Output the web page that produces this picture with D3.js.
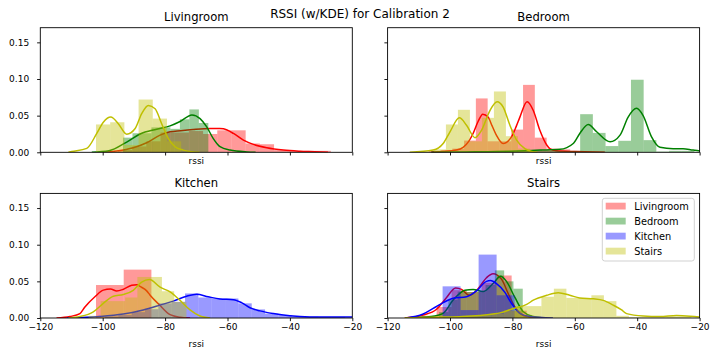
<!DOCTYPE html>
<html><head><meta charset="utf-8">
<script src="https://cdn.jsdelivr.net/npm/d3@7"></script>
<style>body{margin:0;background:#fff}svg{display:block}text{font-family:"DejaVu Sans",sans-serif;fill:#000}</style>
</head><body><svg id="c" width="720" height="360"></svg>
<script>
// ---------- data ----------
const rooms = ["Livingroom", "Bedroom", "Kitchen", "Stairs"];   // beacons (series) and panels
const xTicks = [-120, -100, -80, -60, -40, -20];
const yTicks = [0, 0.05, 0.10, 0.15];
const suptitle = "RSSI (w/KDE) for Calibration 2";
const xLabel = "rssi";

// histogram bins: [first edge, bin width]; densities per bin; KDE as [rssi, density]
// Panel: Livingroom
const livR_bin = [-95.13, 4.55];
const livR_den = [0.003, 0.008, 0.015, 0.027, 0.027, 0.029, 0.025, 0.030, 0.030, 0.012, 0.011, 0.003, 0.002, 0.002, 0.002];
const livR_kde = [[-100,0],[-95.5,0.0018],[-90.2,0.0062],[-85.9,0.013],[-81.6,0.0234],[-78.4,0.028],[-75,0.0295],[-71,0.031],[-65.6,0.0324],[-62.5,0.0325],[-61.3,0.032],[-58.1,0.0257],[-54.9,0.0166],[-51.7,0.0108],[-47.4,0.0062],[-42.1,0.003],[-36.8,0.0015],[-32,0.0008],[-27.8,0]];
const livG_bin = [-93.5, 3.04];
const livG_den = [0.020, 0.026, 0.026, 0.034, 0.034, 0.032, 0.045, 0.0585, 0.040];
const livG_kde = [[-103.5,0],[-98,0.002],[-92.3,0.014],[-88,0.025],[-82.7,0.0315],[-78.4,0.036],[-75.2,0.042],[-71.4,0.051],[-68.8,0.046],[-66.7,0.035],[-64.6,0.019],[-62.4,0.0076],[-59.2,0.003],[-53.8,0.0005],[-51,0]];
const livY_bin = [-102.15, 4.55];
const livY_den = [0.038, 0.041, 0.010, 0.072, 0.046, 0.015];
const livY_kde = [[-111,0],[-109.9,0.001],[-105.1,0.0054],[-101.9,0.0257],[-99.8,0.041],[-97.4,0.048],[-95,0.039],[-92.3,0.0247],[-89.6,0.0324],[-87.5,0.0527],[-85.4,0.064],[-83.2,0.0595],[-81.1,0.039],[-79,0.019],[-76.8,0.0076],[-74.2,0.003],[-71,0.0005],[-69,0]];

// Panel: Bedroom
const bedR_bin = [-106.83, 3.78];
const bedR_den = [0.002, 0.003, 0.005, 0.016, 0.0735, 0.015, 0.015, 0.031, 0.092, 0.020, 0.005, 0.004, 0.001, 0.001, 0.001];
const bedR_kde = [[-106,0],[-102.2,0.001],[-98,0.003],[-95.8,0.0068],[-94,0.015],[-92.6,0.0257],[-91,0.042],[-89.5,0.052],[-87.8,0.048],[-86.5,0.036],[-85.1,0.023],[-83,0.012],[-80.3,0.021],[-78.8,0.035],[-77.6,0.048],[-75.3,0.069],[-73.3,0.057],[-71.2,0.030],[-69,0.010],[-68,0.005],[-66,0.002],[-60,0.001],[-50.4,0]];
const bedG_bin = [-82.7, 4.07];
const bedG_den = [0.001, 0.002, 0.003, 0.002, 0.002, 0.002, 0.052, 0.0265, 0.0085, 0.0157, 0.099, 0.0166, 0.001, 0.002, 0.002];
const bedG_kde = [[-106,0],[-95,0.0005],[-85,0.001],[-80.8,0.0015],[-71.1,0.003],[-64.8,0.004],[-60.5,0.012],[-58.4,0.0257],[-55.7,0.038],[-53,0.028],[-48.7,0.0143],[-45.5,0.0234],[-42.9,0.048],[-40.2,0.060],[-38.1,0.050],[-35.4,0.021],[-32.7,0.0068],[-28.5,0.005],[-25.3,0.005],[-22.1,0.003],[-20,0.002],[-18,0.001]];
const bedY_bin = [-105.16, 3.846];
const bedY_den = [0.004, 0.038, 0.058, 0.015, 0.047, 0.083, 0.022, 0.005];
const bedY_kde = [[-112.9,0],[-105.4,0.003],[-102.2,0.012],[-100,0.028],[-97,0.047],[-94.7,0.037],[-92,0.020],[-89.9,0.030],[-87.2,0.057],[-84.9,0.069],[-83,0.062],[-80.8,0.037],[-78.7,0.017],[-76,0.005],[-73.8,0.001],[-72,0]];

// Panel: Kitchen
const kitR_bin = [-102.15, 8.88];
const kitR_den = [0.045, 0.066];
const kitR_kde = [[-114.8,0],[-110.5,0.002],[-107.3,0.006],[-105.7,0.015],[-102.5,0.029],[-99.8,0.038],[-97.5,0.0395],[-95.5,0.037],[-93.5,0.039],[-90.7,0.0446],[-89,0.0455],[-88,0.043],[-85.9,0.037],[-84.8,0.031],[-81.6,0.017],[-78.4,0.0045],[-75.2,0.001],[-72,0]];
const kitB_bin = [-99.26, 4.275];
const kitB_den = [0.002, 0.004, 0.008, 0.012, 0.020, 0.022, 0.0335, 0.028, 0.0266, 0.0266, 0.020, 0.0117, 0.006, 0.004, 0.002, 0.002, 0.0015, 0.0015];
const kitB_kde = [[-111.5,0],[-100.9,0.002],[-93.4,0.0054],[-87,0.011],[-81.6,0.0176],[-77.4,0.023],[-73.1,0.0297],[-69.9,0.0324],[-66.2,0.029],[-62.4,0.026],[-58.1,0.025],[-55.5,0.021],[-52.8,0.014],[-49.6,0.0097],[-45.3,0.006],[-40,0.003],[-33.6,0.0015],[-26,0.0013],[-20,0.0012]];
const kitY_bin = [-104.6, 3.93];
const kitY_den = [0.003, 0.023, 0.023, 0.028, 0.056, 0.056, 0.0365, 0.022];
const kitY_kde = [[-111,0],[-107.3,0.002],[-103,0.0085],[-99.8,0.020],[-96.6,0.0297],[-93.4,0.032],[-90.2,0.0378],[-87.5,0.049],[-85,0.0525],[-81.6,0.042],[-78.4,0.0356],[-75.2,0.024],[-72,0.011],[-69,0.003],[-65.6,0]];

// Panel: Stairs
const staR_bin = [-109.1, 4.81];
const staR_den = [0.003, 0.015, 0.038, 0.0355, 0.048, 0.058, 0.010];
const staR_kde = [[-114.5,0],[-108.6,0.004],[-104.3,0.012],[-101.1,0.028],[-98.2,0.041],[-96.3,0.039],[-93.8,0.031],[-91,0.040],[-88.3,0.055],[-86.2,0.0605],[-83.5,0.053],[-81.3,0.033],[-79.2,0.015],[-76.5,0.0035],[-73,0.0005],[-70,0]];
const staG_bin = [-103.5, 2.98];
const staG_den = [0.008, 0.025, 0.036, 0.0355, 0.036, 0.045, 0.065, 0.050, 0.040, 0.004];
const staG_kde = [[-113.9,0],[-106,0.002],[-102.2,0.0063],[-99,0.0245],[-95.2,0.038],[-92.6,0.039],[-89.4,0.036],[-86.2,0.047],[-83.8,0.057],[-81.9,0.050],[-79.2,0.028],[-76.5,0.0085],[-73.3,0.002],[-70,0]];
const staB_bin = [-102.37, 5.77];
const staB_den = [0.0432, 0.0108, 0.0865, 0.031];
const staB_kde = [[-114,0],[-108.6,0.0054],[-105.4,0.013],[-102.2,0.021],[-99,0.027],[-94.7,0.029],[-91.5,0.037],[-88.3,0.050],[-87,0.051],[-85.1,0.047],[-82.4,0.035],[-80.3,0.020],[-77.6,0.0063],[-74.4,0.002],[-67,0]];
const staY_bin = [-106.76, 4.006];
const staY_den = [0.001, 0.001, 0.002, 0.003, 0.004, 0.006, 0.010, 0.0162, 0.0162, 0.029, 0.040, 0.0274, 0.0274, 0.031, 0.023, 0.003, 0.001, 0.001, 0.001, 0.002, 0.002];
const staY_kde = [[-114.5,0],[-105,0.001],[-96.8,0.0018],[-86.2,0.0054],[-84,0.007],[-79.7,0.013],[-75.4,0.0185],[-73.3,0.0243],[-69,0.031],[-65.3,0.0345],[-61.6,0.031],[-58.4,0.0274],[-54.1,0.0262],[-50.9,0.024],[-47.7,0.0176],[-45,0.011],[-43.4,0.006],[-38.1,0.0027],[-32.7,0.002],[-27.4,0.0034],[-23,0.0025],[-20,0.0013]];

// ---------- styles / layout ----------
const colors = ["#ff0000", "#008000", "#0000ff", "#bfbf00"];
const panels = [
  {title: rooms[0], col: 0, row: 0, series: [[0, livR_bin, livR_den, livR_kde], [1, livG_bin, livG_den, livG_kde], [3, livY_bin, livY_den, livY_kde]]},
  {title: rooms[1], col: 1, row: 0, series: [[0, bedR_bin, bedR_den, bedR_kde], [1, bedG_bin, bedG_den, bedG_kde], [3, bedY_bin, bedY_den, bedY_kde]]},
  {title: rooms[2], col: 0, row: 1, series: [[0, kitR_bin, kitR_den, kitR_kde], [2, kitB_bin, kitB_den, kitB_kde], [3, kitY_bin, kitY_den, kitY_kde]]},
  {title: rooms[3], col: 1, row: 1, series: [[0, staR_bin, staR_den, staR_kde], [1, staG_bin, staG_den, staG_kde], [2, staB_bin, staB_den, staB_kde], [3, staY_bin, staY_den, staY_kde]]}
];
const colX = [40.3, 387.6], rowY = [27.7, 193.4];
const W = 312, H = 124.6;

const svg = d3.select("#c");
svg.append("text").attr("x", 360).attr("y", 18).attr("text-anchor", "middle")
  .style("font-size", "12px").text(suptitle);

const x = d3.scaleLinear().domain([-120, -20]).range([0, W]);
const y = d3.scaleLinear().domain([0, 0.17]).range([H, 0]);
const fmtX = d => (d < 0 ? "\u2212" + Math.abs(d) : String(d));
const fmtY = d3.format(".2f");
const line = d3.line().x(d => x(d[0])).y(d => y(d[1])).curve(d3.curveMonotoneX);

panels.forEach((p, pi) => {
  const g = svg.append("g").attr("transform", `translate(${colX[p.col]},${rowY[p.row]})`);
  const cid = "clip" + pi;
  g.append("clipPath").attr("id", cid).append("rect").attr("width", W).attr("height", H);
  const plot = g.append("g").attr("clip-path", `url(#${cid})`);
  p.series.forEach(([ci, bin, den, kde]) => {
    const [x0, w] = bin;
    plot.append("g").selectAll("rect").data(den).join("rect")
      .attr("x", (d, i) => x(x0 + i * w))
      .attr("width", (d, i) => x(x0 + (i + 1) * w) - x(x0 + i * w))
      .attr("y", d => y(d)).attr("height", d => y(0) - y(d))
      .attr("fill", colors[ci]).attr("fill-opacity", 0.4);
    plot.append("path").datum(kde).attr("d", line)
      .attr("fill", "none").attr("stroke", colors[ci]).attr("stroke-width", 1.5);
  });
  // axes
  const ax = g.append("g").attr("transform", `translate(0,${H})`)
    .call(d3.axisBottom(x).tickValues(xTicks).tickSize(3.2).tickPadding(2.3)
      .tickFormat(p.row === 1 ? fmtX : () => ""));
  const ay = g.append("g")
    .call(d3.axisLeft(y).tickValues(yTicks).tickSize(3.2).tickPadding(8)
      .tickFormat(p.col === 0 ? fmtY : () => ""));
  [ax, ay].forEach(a => {
    a.select(".domain").remove();
    a.selectAll("line").attr("stroke", "#000").attr("stroke-width", 0.9);
    a.selectAll("text").style("font-size", "9px").attr("fill", "#000")
      .style("font-family", '"DejaVu Sans",sans-serif');
  });
  g.append("rect").attr("width", W).attr("height", H)
    .attr("fill", "none").attr("stroke", "#000").attr("stroke-width", 0.9);
  g.append("text").attr("x", W / 2).attr("y", -6.7).attr("text-anchor", "middle")
    .style("font-size", "11.6px").text(p.title);
  g.append("text").attr("x", W / 2).attr("y", p.row === 0 ? H + 12 : H + 28.8)
    .attr("text-anchor", "middle").style("font-size", "9px").text(xLabel);
});

// legend in Stairs panel
const lg = svg.append("g").attr("transform", "translate(602.3,198.3)");
lg.append("rect").attr("width", 92).attr("height", 62.7).attr("rx", 2.5)
  .attr("fill", "#fff").attr("fill-opacity", 0.8).attr("stroke", "#cccccc").attr("stroke-width", 0.9);
rooms.forEach((r, i) => {
  const cy = 7.8 + i * 15;
  lg.append("rect").attr("x", 3.4).attr("y", cy - 3.4).attr("width", 20).attr("height", 6.8)
    .attr("fill", colors[i]).attr("fill-opacity", 0.4);
  lg.append("text").attr("x", 32).attr("y", cy + 3.5).style("font-size", "9.8px").text(r);
});
</script></body></html>
